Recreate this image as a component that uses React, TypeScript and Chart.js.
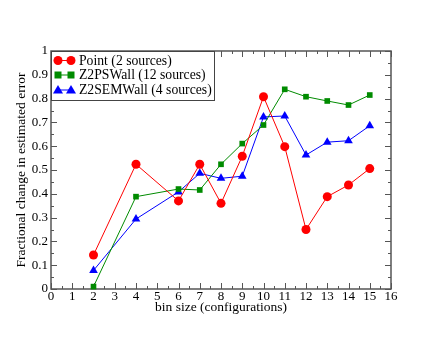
import React, { useEffect, useRef } from "react";
import { Chart, registerables } from "chart.js";

Chart.register(...registerables);

const binSizes = [2, 4, 6, 7, 8, 9, 10, 11, 12, 13, 14, 15];
const pointValues = [0.143, 0.524, 0.37, 0.524, 0.36, 0.558, 0.808, 0.598, 0.25, 0.388, 0.437, 0.506];
const z2psValues = [0.01, 0.388, 0.42, 0.416, 0.524, 0.611, 0.689, 0.839, 0.808, 0.79, 0.773, 0.815];
const z2semValues = [0.078, 0.294, 0.408, 0.486, 0.465, 0.474, 0.723, 0.727, 0.563, 0.617, 0.623, 0.686];
const seriesLabels = ["Point (2 sources)", "Z2PSWall (12 sources)", "Z2SEMWall (4 sources)"];
const xTitle = "bin size (configurations)";
const yTitle = "Fractional change in estimated error";

const RED = "#ff0000";
const GREEN = "#008b00";
const BLUE = "#0000ff";
const FRAME = "#555555";
const FONT = "'Liberation Serif', 'Times New Roman', serif";

const framePlugin = {
  id: "framePlugin",
  beforeDatasetsDraw(chart: any) {
    const { ctx, chartArea, scales } = chart;
    const { left, right, top, bottom } = chartArea;
    const xs = scales.x;
    const ys = scales.y;
    ctx.save();
    ctx.strokeStyle = FRAME;
    ctx.lineWidth = 1;
    for (let v = 0; v <= 16; v += 0.5) {
      const px = Math.round(xs.getPixelForValue(v)) + 0.5;
      const len = Number.isInteger(v) ? 6 : 3;
      ctx.beginPath();
      ctx.moveTo(px, bottom);
      ctx.lineTo(px, bottom - len);
      ctx.moveTo(px, top);
      ctx.lineTo(px, top + len);
      ctx.stroke();
    }
    for (let i = 0; i <= 20; i++) {
      const v = i * 0.05;
      const py = Math.round(ys.getPixelForValue(v)) + 0.5;
      const len = i % 2 === 0 ? 6 : 3;
      ctx.beginPath();
      ctx.moveTo(left, py);
      ctx.lineTo(left + len, py);
      ctx.moveTo(right, py);
      ctx.lineTo(right - len, py);
      ctx.stroke();
    }
    ctx.lineWidth = 1.5;
    ctx.strokeRect(left, top, right - left, bottom - top);
    ctx.restore();
  },
  afterDraw(chart: any) {
    const { ctx, chartArea } = chart;
    const bx = chartArea.left;
    const by = chartArea.top;
    const bw = 163;
    const bh = 49;
    ctx.save();
    ctx.fillStyle = "#ffffff";
    ctx.fillRect(bx, by, bw, bh);
    ctx.strokeStyle = "#444444";
    ctx.lineWidth = 1;
    ctx.strokeRect(bx + 0.5, by + 0.5, bw, bh);
    const colors = [RED, GREEN, BLUE];
    const styles = ["circle", "rect", "triangle"];
    const rows = [by + 9.5, by + 24, by + 39];
    for (let i = 0; i < 3; i++) {
      const y = rows[i];
      ctx.strokeStyle = colors[i];
      ctx.fillStyle = colors[i];
      ctx.lineWidth = 1;
      ctx.beginPath();
      ctx.moveTo(bx + 7, y);
      ctx.lineTo(bx + 20, y);
      ctx.stroke();
      for (const mx of [bx + 7, bx + 20]) {
        ctx.beginPath();
        if (styles[i] === "circle") {
          ctx.arc(mx, y, 4.5, 0, Math.PI * 2);
        } else if (styles[i] === "rect") {
          ctx.rect(mx - 3.5, y - 3.5, 7, 7);
        } else {
          ctx.moveTo(mx, y - 5);
          ctx.lineTo(mx + 5, y + 3.5);
          ctx.lineTo(mx - 5, y + 3.5);
          ctx.closePath();
        }
        ctx.fill();
      }
      ctx.fillStyle = "#000000";
      ctx.font = `13.7px ${FONT}`;
      ctx.textBaseline = "middle";
      ctx.textAlign = "left";
      ctx.fillText(seriesLabels[i], bx + 28, y + 0.5);
    }
    ctx.restore();
  },
};

export default function App() {
  const canvasRef = useRef<HTMLCanvasElement | null>(null);

  useEffect(() => {
    if (!canvasRef.current) return;
    const mk = (label: string, data: number[], color: string, style: string, radius: number) => ({
      label,
      data: binSizes.map((x, i) => ({ x, y: data[i] })),
      borderColor: color,
      backgroundColor: color,
      borderWidth: 1,
      pointStyle: style,
      pointRadius: radius,
      pointBorderWidth: 0,
      showLine: true,
      tension: 0,
      clip: false,
    });
    const chart = new Chart(canvasRef.current, {
      type: "scatter",
      data: {
        datasets: [
          mk(seriesLabels[0], pointValues, RED, "circle", 4.5),
          mk(seriesLabels[1], z2psValues, GREEN, "rect", 4),
          mk(seriesLabels[2], z2semValues, BLUE, "triangle", 5),
        ],
      },
      options: {
        animation: false,
        responsive: true,
        maintainAspectRatio: false,
        layout: { padding: { left: 0, right: 49, top: 51, bottom: 0 } },
        plugins: { legend: { display: false }, tooltip: { enabled: false } },
        scales: {
          x: {
            type: "linear",
            min: 0,
            max: 16,
            grid: { display: false, drawTicks: false },
            border: { display: false },
            ticks: {
              stepSize: 1,
              padding: 1,
              color: "#000",
              font: { family: FONT, size: 13, lineHeight: 1 },
              maxRotation: 0,
            },
            title: {
              display: true,
              text: xTitle,
              color: "#000",
              font: { family: FONT, size: 13.5, lineHeight: 1 },
              padding: { top: 0, bottom: 26 },
            },
            afterFit: (s: any) => {
              s.height = 51;
            },
          },
          y: {
            type: "linear",
            min: 0,
            max: 1,
            grid: { display: false, drawTicks: false },
            border: { display: false },
            ticks: {
              stepSize: 0.1,
              padding: 3,
              color: "#000",
              font: { family: FONT, size: 13, lineHeight: 1 },
              callback: (v: any) => String(Math.round(Number(v) * 10) / 10),
            },
            title: {
              display: true,
              text: yTitle,
              color: "#000",
              font: { family: FONT, size: 13.5, lineHeight: 1 },
              padding: { top: 15, bottom: 0 },
            },
            afterFit: (s: any) => {
              s.width = 51;
            },
          },
        },
      },
      plugins: [framePlugin],
    } as any);
    return () => chart.destroy();
  }, []);

  return (
    <div style={{ position: "fixed", left: 0, top: 0, width: 440, height: 340, background: "#fff" }}>
      <canvas ref={canvasRef} />
    </div>
  );
}
